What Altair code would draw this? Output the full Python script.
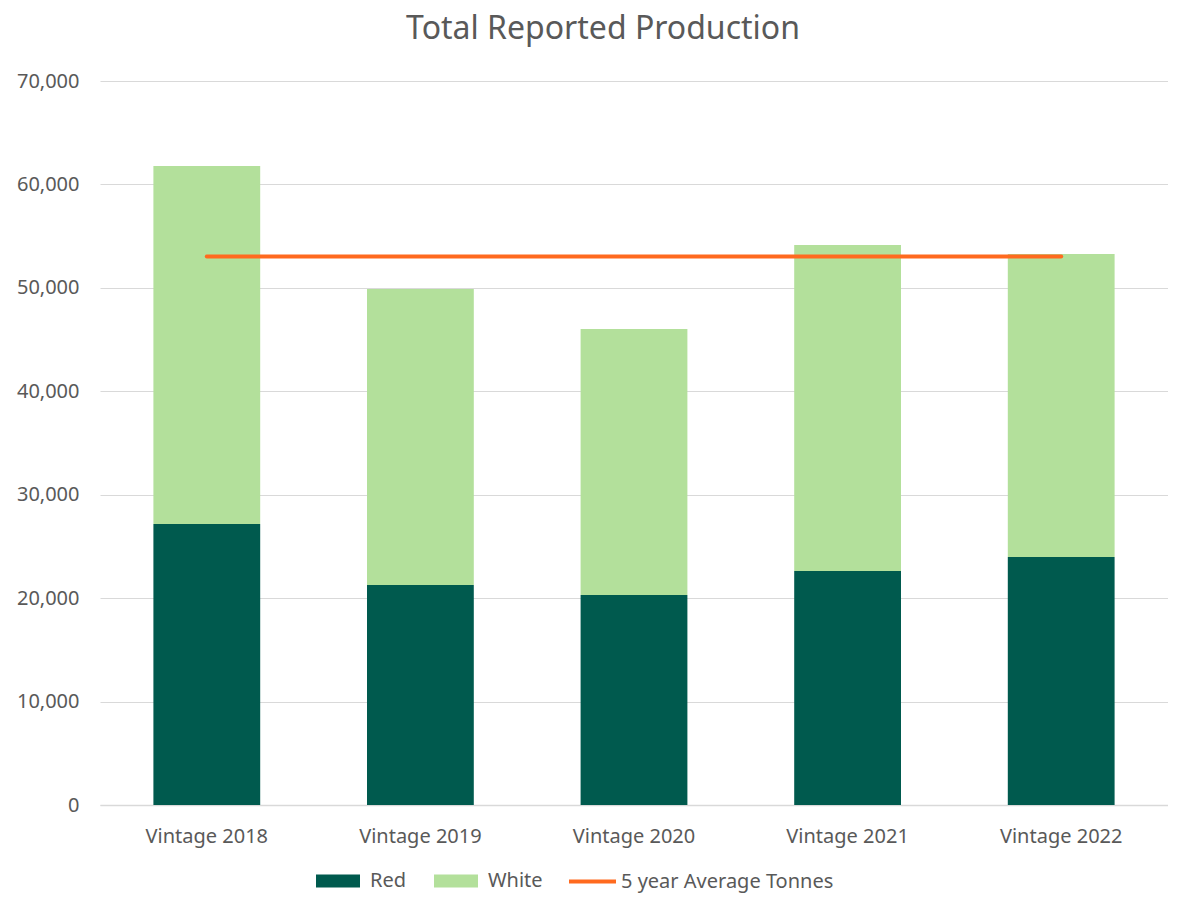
import altair as alt
import pandas as pd

years = ["Vintage 2018", "Vintage 2019", "Vintage 2020", "Vintage 2021", "Vintage 2022"]
red = [27170, 21270, 20300, 22620, 23980]
white = [34610, 28620, 25720, 31520, 29290]
avg = [53020, 53020, 53020, 53020, 53020]

bars = pd.DataFrame(
    [{"year": y, "type": "Red", "value": v, "ord": 0} for y, v in zip(years, red)]
    + [{"year": y, "type": "White", "value": v, "ord": 1} for y, v in zip(years, white)]
)
line_df = pd.DataFrame({"year": years, "value": avg, "series": "5 year Average Tonnes"})

FONT = "Noto Sans"
GREY = "#595959"
FS = 20

x = alt.X("year:N", title=None, sort=years,
          scale=alt.Scale(paddingInner=0.5, paddingOuter=0.25),
          axis=alt.Axis(labelAngle=0, labelFontSize=FS, labelColor=GREY, labelFont=FONT,
                        labelPadding=21, ticks=False, domainColor="#D9D9D9", domainWidth=1.5))

bar = alt.Chart(bars).mark_bar().encode(
    x=x,
    y=alt.Y("value:Q", title=None, stack="zero",
            scale=alt.Scale(domain=[0, 70000], nice=False),
            axis=alt.Axis(values=list(range(0, 70001, 10000)), format=",.0f", labelFontSize=FS,
                          labelColor=GREY, labelFont=FONT, labelPadding=21, ticks=False,
                          domain=False, gridColor="#D9D9D9", gridWidth=1.2)),
    fill=alt.Fill("type:N", title=None,
                  scale=alt.Scale(domain=["Red", "White"], range=["#005A4E", "#B3E09B"]),
                  legend=alt.Legend(orient="none", legendX=216, legendY=778, direction="horizontal",
                                    symbolType="M-1,-0.3H1V0.3H-1Z", symbolSize=1936,
                                    symbolStrokeWidth=0, labelFontSize=FS, labelColor=GREY,
                                    labelFont=FONT, labelOffset=10, columnPadding=27,
                                    labelLimit=400)),
    order=alt.Order("ord:Q"),
)

line = alt.Chart(line_df).mark_line(strokeWidth=4, strokeCap="round").encode(
    x=alt.X("year:N", sort=years),
    y=alt.Y("value:Q"),
    stroke=alt.Stroke("series:N", title=None,
                      scale=alt.Scale(range=["#FF6A1F"]),
                      legend=alt.Legend(orient="none", legendX=467, legendY=775,
                                        symbolType="stroke", symbolSize=2209, symbolStrokeWidth=4,
                                        labelFontSize=FS, labelColor=GREY, labelFont=FONT,
                                        labelOffset=3, labelLimit=400)),
)

chart = alt.layer(bar, line).properties(
    width=1068, height=724,
    autosize=alt.AutoSizeParams(type="none"),
    padding={"left": 92, "top": 73, "right": 0, "bottom": 90},
    title=alt.TitleParams("Total Reported Production", fontSize=32, font=FONT, color=GREY,
                          fontWeight="normal", anchor="middle", dx=-31, offset=25),
).configure_view(stroke=None)

chart.save("out.html", embed_options={"renderer": "svg", "actions": False})
